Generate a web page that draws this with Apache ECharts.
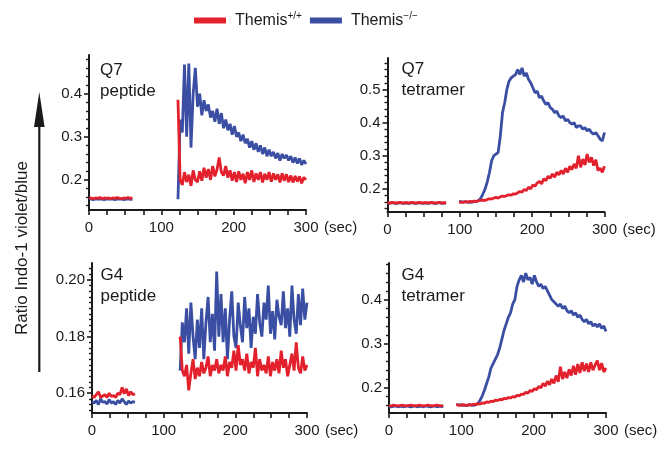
<!DOCTYPE html>
<html><head><meta charset="utf-8">
<script src="https://cdn.jsdelivr.net/npm/echarts@6/dist/echarts.min.js"></script>
<style>html,body{margin:0;padding:0;background:#fff}#c{width:666px;height:449px}</style>
</head><body><div id="c"></div>
<script>
// ---- shared time axis (sec), sampled every 3 s ----
const times = [
  0,3,6,9,12,15,18,21,24,27,
  30,33,36,39,42,45,48,51,54,57,
  60,63,66,69,72,75,78,81,84,87,
  90,93,96,99,102,105,108,111,114,117,
  120,123,126,129,132,135,138,141,144,147,
  150,153,156,159,162,165,168,171,174,177,
  180,183,186,189,192,195,198,201,204,207,
  210,213,216,219,222,225,228,231,234,237,
  240,243,246,249,252,255,258,261,264,267,
  270,273,276,279,282,285,288,291,294,297,
  300];
const xTickLabels = [0,100,200,300];
const xTicks = [0,25,50,75,100,125,150,175,200,225,250,275,300];
const seriesNames = ['Themis+/+','Themis\u2212/\u2212'];
const panelTitles = ['Q7\npeptide','Q7\ntetramer','G4\npeptide','G4\ntetramer'];

// ---- Q7 peptide ----
const q7pepRed = [
  .157,.158,.156,.158,.157,.159,.156,.158,.157,.158,
  .156,.158,.157,.159,.157,.156,.158,.157,.159,.157,
  .158,null,null,null,null,null,null,null,null,null,
  null,null,null,null,null,null,null,null,null,null,
  null,.386,.200,.188,.218,.195,.212,.186,.222,.200,
  .195,.220,.198,.228,.205,.225,.200,.232,.208,.224,
  .252,.218,.210,.232,.205,.222,.198,.218,.195,.220,
  .200,.214,.192,.218,.200,.222,.195,.215,.200,.218,
  .194,.214,.200,.218,.196,.215,.200,.213,.194,.215,
  .198,.213,.195,.210,.194,.209,.196,.208,.192,.206,
  .200];
const q7pepBlue = [
  .155,.156,.154,.156,.155,.156,.155,.154,.156,.155,
  .156,.155,.154,.156,.155,.156,.154,.155,.156,.155,
  .155,null,null,null,null,null,null,null,null,null,
  null,null,null,null,null,null,null,null,null,null,
  null,.155,.340,.310,.468,.300,.470,.275,.400,.460,
  .370,.400,.350,.385,.360,.375,.345,.360,.335,.365,
  .330,.355,.320,.340,.315,.330,.305,.325,.300,.310,
  .290,.305,.285,.295,.275,.290,.270,.285,.265,.280,
  .260,.275,.255,.270,.255,.265,.250,.262,.245,.260,
  .250,.258,.245,.255,.240,.252,.238,.250,.235,.245,
  .237];

// ---- Q7 tetramer ----
const q7tetRed = [
  .158,.157,.159,.158,.157,.158,.159,.157,.158,.158,
  .157,.159,.158,.157,.158,.159,.157,.158,.158,.157,
  .159,.158,.157,.158,.159,.157,.158,.158,null,null,
  null,null,null,.160,.159,.160,.161,.160,.162,.161,
  .163,.162,.164,.165,.166,.165,.168,.170,.169,.172,
  .174,.172,.176,.178,.177,.180,.182,.181,.185,.184,
  .188,.192,.190,.198,.195,.205,.200,.212,.208,.218,
  .222,.215,.230,.225,.238,.232,.245,.235,.250,.242,
  .255,.245,.262,.250,.268,.258,.275,.262,.300,.265,
  .290,.272,.305,.280,.295,.270,.288,.255,.262,.250,
  .268];
const q7tetBlue = [
  .157,.156,.158,.157,.156,.157,.158,.156,.157,.157,
  .156,.158,.157,.156,.157,.158,.156,.157,.157,.156,
  .158,.157,.156,.157,.158,.156,.157,.157,null,null,
  null,null,null,.162,.161,.160,.161,.160,.159,.160,
  .161,.162,.165,.172,.185,.200,.222,.250,.285,.300,
  .305,.310,.360,.430,.460,.500,.525,.535,.540,.545,
  .560,.545,.565,.540,.550,.530,.520,.505,.490,.495,
  .475,.480,.465,.455,.460,.445,.440,.430,.435,.420,
  .415,.420,.405,.410,.400,.395,.400,.385,.390,.390,
  .380,.385,.375,.380,.370,.365,.370,.360,.350,.345,
  .370];

// ---- G4 peptide ----
const g4pepRed = [
  .1590,.1585,.1595,.1605,.1585,.1590,.1595,.1585,.1600,.1588,
  .1592,.1585,.1600,.1595,.1620,.1598,.1615,.1592,.1605,.1595,
  .1598,null,null,null,null,null,null,null,null,null,
  null,null,null,null,null,null,null,null,null,null,
  null,.180,.168,.166,.170,.161,.167,.172,.165,.169,
  .166,.171,.167,.169,.173,.166,.170,.168,.172,.167,
  .170,.168,.173,.166,.171,.169,.175,.168,.177,.170,
  .172,.168,.174,.167,.171,.169,.176,.166,.172,.168,
  .170,.167,.173,.166,.171,.168,.172,.167,.175,.169,
  .172,.166,.170,.174,.168,.178,.169,.167,.173,.168,
  .170];
const g4pepBlue = [
  .1570,.1565,.1575,.1560,.1580,.1568,.1570,.1562,.1578,.1565,
  .1570,.1560,.1575,.1565,.1580,.1570,.1560,.1572,.1565,.1570,
  .1568,null,null,null,null,null,null,null,null,null,
  null,null,null,null,null,null,null,null,null,null,
  null,.168,.185,.178,.190,.174,.192,.180,.172,.186,
  .176,.190,.172,.185,.194,.178,.188,.175,.203,.180,
  .195,.178,.190,.172,.186,.196,.180,.176,.192,.184,
  .178,.194,.183,.190,.176,.187,.181,.195,.185,.180,
  .192,.186,.198,.181,.189,.179,.193,.187,.184,.196,
  .183,.190,.180,.198,.186,.181,.195,.184,.197,.186,
  .192];

// ---- G4 tetramer ----
const g4tetRed = [
  .160,.159,.161,.160,.159,.160,.161,.160,.159,.160,
  .161,.160,.159,.160,.161,.160,.159,.160,.161,.160,
  .159,.160,.161,.160,.159,.160,null,null,null,null,
  null,.162,.161,.160,.162,.161,.160,.162,.161,.163,
  .162,.164,.163,.166,.165,.168,.167,.170,.169,.172,
  .171,.174,.173,.176,.175,.178,.177,.180,.179,.183,
  .182,.186,.185,.190,.188,.194,.192,.198,.196,.203,
  .200,.210,.204,.215,.207,.220,.210,.228,.214,.248,
  .220,.236,.222,.242,.228,.250,.230,.254,.234,.258,
  .238,.255,.236,.258,.240,.252,.262,.240,.256,.236,
  .245];
const g4tetBlue = [
  .158,.157,.158,.159,.157,.158,.158,.157,.159,.158,
  .157,.158,.159,.157,.158,.158,.157,.159,.158,.157,
  .158,.159,.157,.158,.158,.157,null,null,null,null,
  null,.163,.161,.162,.160,.161,.160,.162,.161,.160,
  .162,.165,.172,.182,.195,.210,.225,.245,.255,.265,
  .275,.290,.310,.330,.345,.360,.370,.390,.400,.430,
  .445,.455,.440,.460,.445,.450,.435,.455,.440,.430,
  .435,.425,.430,.420,.410,.400,.395,.390,.385,.390,
  .380,.385,.375,.370,.375,.365,.370,.360,.365,.355,
  .350,.355,.345,.350,.340,.345,.338,.345,.335,.340,
  .328];

// ---- y-axis ticks ----
const q7pepYLabels = [0.2,0.3,0.4];
const q7pepYMinor = [0.14,0.16,0.18,0.22,0.24,0.26,0.28,0.32,0.34,0.36,0.38,0.42,0.44,0.46,0.48];
const q7tetYLabels = [0.2,0.3,0.4,0.5];
const q7tetYMinor = [0.14,0.16,0.18,0.22,0.24,0.26,0.28,0.32,0.34,0.36,0.38,0.42,0.44,0.46,0.48,0.52,0.54,0.56,0.58];
const g4pepYLabels = [0.16,0.18,0.20];
const g4pepYMinor = [0.154,0.156,0.158,0.162,0.164,0.166,0.168,0.170,0.172,0.174,0.176,0.178,0.182,0.184,0.186,0.188,0.190,0.192,0.194,0.196,0.198,0.202,0.204];
const g4tetYLabels = [0.2,0.3,0.4];
const g4tetYMinor = [0.16,0.18,0.22,0.24,0.26,0.28,0.32,0.34,0.36,0.38,0.42,0.44,0.46,0.48];

const RED = '#e3212d', BLUE = '#3a4fa3', INK = '#1a1a1a';
const FONT = 'Liberation Sans, Arial, Helvetica, sans-serif';

const panels = [
  {grid:{left:89, top:55, width:217, height:155}, min:0.13, max:0.49, labels:q7pepYLabels, minor:q7pepYMinor, dec:1, red:q7pepRed, blue:q7pepBlue},
  {grid:{left:387.5, top:58, width:217, height:154}, min:0.13, max:0.595, labels:q7tetYLabels, minor:q7tetYMinor, dec:1, red:q7tetRed, blue:q7tetBlue},
  {grid:{left:92, top:263, width:215, height:150}, min:0.153, max:0.206, labels:g4pepYLabels, minor:g4pepYMinor, dec:2, red:g4pepRed, blue:g4pepBlue},
  {grid:{left:389, top:263, width:217, height:150}, min:0.143, max:0.483, labels:g4tetYLabels, minor:g4tetYMinor, dec:1, red:g4tetRed, blue:g4tetBlue}
];
const titlePos = [{left:100, top:60},{left:401.5, top:58.5},{left:100.5, top:264.5},{left:401.5, top:265}];

const toData = vals => times.map((t,i) => vals[i] === null ? [t,'-'] : [t, vals[i]]);

const grids = [], xAxes = [], yAxes = [], series = [], titles = [];
panels.forEach((p,k) => {
  grids.push(Object.assign({outerBoundsMode:'none', containLabel:false}, p.grid));
  xAxes.push({
    type:'value', gridIndex:k, min:0, max:300,
    axisLine:{show:true, onZero:false, lineStyle:{color:INK, width:2}},
    axisTick:{show:true, customValues:xTicks, length:5, lineStyle:{color:INK, width:1.6}},
    axisLabel:{customValues:xTickLabels, margin:10, color:INK, fontSize:15, fontFamily:FONT},
    splitLine:{show:false},
    name:'(sec)', nameLocation:'end', nameGap:18,
    nameTextStyle:{color:INK, fontSize:15, fontFamily:FONT, verticalAlign:'top', align:'left', padding:[10,0,0,0]}
  });
  yAxes.push({
    type:'value', gridIndex:k, min:p.min, max:p.max, position:'left',
    axisLine:{show:true, onZero:false, lineStyle:{color:INK, width:2}},
    axisTick:{show:true, customValues:p.labels, length:5, lineStyle:{color:INK, width:1.6}},
    axisLabel:{customValues:p.labels, margin:7, color:INK, fontSize:15, fontFamily:FONT,
      formatter: v => Number(v).toFixed(p.dec)},
    splitLine:{show:false}
  });
  yAxes.push({
    type:'value', gridIndex:k, min:p.min, max:p.max, position:'left',
    axisLine:{show:false},
    axisTick:{show:true, customValues:p.minor, length:3, lineStyle:{color:INK, width:1.4}},
    axisLabel:{show:false},
    splitLine:{show:false}
  });
  series.push({
    type:'line', name:seriesNames[1], xAxisIndex:k, yAxisIndex:2*k, data:toData(p.blue),
    showSymbol:false, symbol:'none', connectNulls:false, lineStyle:{color:BLUE, width:2.8}, itemStyle:{color:BLUE}, z:2
  });
  series.push({
    type:'line', name:seriesNames[0], xAxisIndex:k, yAxisIndex:2*k, data:toData(p.red),
    showSymbol:false, symbol:'none', connectNulls:false, lineStyle:{color:RED, width:2.8}, itemStyle:{color:RED}, z:3
  });
  titles.push({text:panelTitles[k], left:titlePos[k].left, top:titlePos[k].top, padding:0,
    textStyle:{color:INK, fontSize:17, fontWeight:'normal', fontFamily:FONT, lineHeight:21}});
});

const chart = echarts.init(document.getElementById('c'), null, {renderer:'canvas'});
chart.setOption({
  animation:false,
  backgroundColor:'#fff',
  title:titles,
  legend:{
    data:[{name:seriesNames[0], itemStyle:{color:RED}}, {name:seriesNames[1], itemStyle:{color:BLUE}}],
    left:194, top:11, icon:'rect', itemWidth:32, itemHeight:6, itemGap:8, padding:0,
    formatter: n => n === seriesNames[0] ? 'Themis{s|+/+}' : 'Themis{s|\u2212/\u2212}',
    textStyle:{color:INK, fontSize:16, fontFamily:FONT, padding:[0,0,0,4],
      rich:{s:{fontSize:10, fontFamily:FONT, color:INK, padding:[0,0,9,0]}}}
  },
  grid:grids, xAxis:xAxes, yAxis:yAxes, series:series,
  graphic:[
    {type:'text', x:22, y:248, rotation:Math.PI/2,
     style:{text:'Ratio Indo-1 violet/blue', fontSize:17, fontFamily:FONT, fill:INK, textAlign:'center', textVerticalAlign:'middle'}},
    {type:'line', shape:{x1:39.3, y1:372, x2:39.3, y2:120}, style:{stroke:INK, lineWidth:2.2}},
    {type:'polygon', shape:{points:[[39.3,92],[34,127],[44.6,127]]}, style:{fill:INK}}
  ]
});
</script></body></html>
